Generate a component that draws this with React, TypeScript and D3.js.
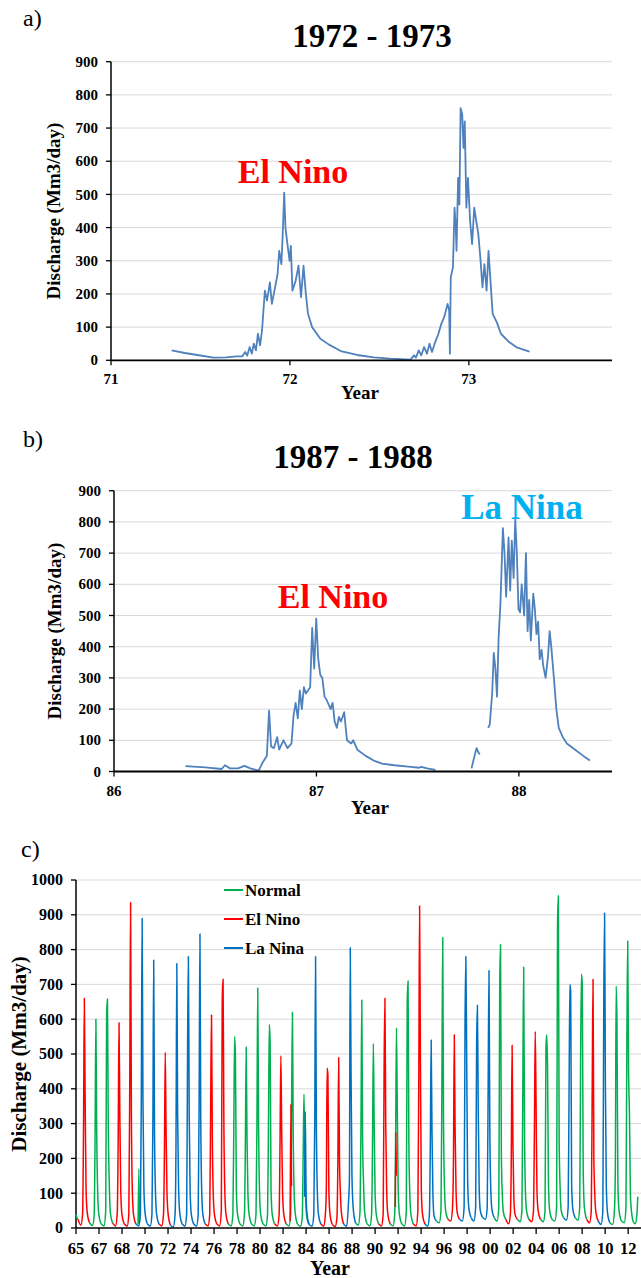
import React from 'react';
import * as d3 from 'd3';

const W = 641, H = 1278;
const FONT = "'Liberation Serif', 'Times New Roman', serif";
const BLUE_LINE = '#4F81BD';
const GRID = '#d9d9d9';

// ---------- Panel a: 1972 - 1973 ----------
const aYTicks = [0, 100, 200, 300, 400, 500, 600, 700, 800, 900];
const aXTicks = [71, 72, 73];
const aFlow: [number, number][] = [
  [71.339, 30], [71.413, 22], [71.482, 16], [71.573, 8], [71.642, 9], [71.700, 12], [71.734, 12],
  [71.750, 25], [71.761, 14], [71.775, 40], [71.787, 20], [71.798, 50], [71.810, 30], [71.821, 80],
  [71.833, 45], [71.844, 90], [71.860, 210], [71.872, 180], [71.888, 235], [71.899, 170], [71.917, 220],
  [71.931, 260], [71.940, 330], [71.952, 290], [71.959, 370], [71.968, 505], [71.975, 400], [71.986, 350],
  [71.998, 300], [72.005, 345], [72.014, 210], [72.032, 240], [72.048, 285], [72.062, 190], [72.076, 285],
  [72.089, 200], [72.101, 140], [72.124, 100], [72.170, 65], [72.216, 48], [72.284, 28], [72.376, 16],
  [72.468, 9], [72.560, 5], [72.674, 2], [72.693, 15], [72.704, 8], [72.720, 30], [72.734, 15],
  [72.750, 40], [72.766, 20], [72.780, 50], [72.794, 25], [72.812, 55], [72.830, 80], [72.846, 110],
  [72.862, 130], [72.881, 170], [72.890, 150], [72.894, 20], [72.899, 250], [72.911, 280], [72.920, 460],
  [72.927, 400], [72.931, 330], [72.940, 550], [72.947, 470], [72.954, 760], [72.963, 740], [72.970, 640],
  [72.977, 720], [72.986, 460], [72.995, 550], [73.007, 420], [73.018, 350], [73.030, 460], [73.041, 420],
  [73.053, 380], [73.064, 310], [73.076, 220], [73.087, 290], [73.099, 210], [73.110, 330], [73.122, 230],
  [73.133, 140], [73.156, 115], [73.179, 80], [73.225, 55], [73.271, 38], [73.339, 26],
];

// ---------- Panel b: 1987 - 1988 ----------
const bYTicks = [0, 100, 200, 300, 400, 500, 600, 700, 800, 900];
const bXTicks = [86, 87, 88];
const bFlow1: [number, number][] = [
  [86.353, 17], [86.451, 13], [86.532, 8], [86.548, 20], [86.573, 10], [86.613, 10], [86.644, 18],
  [86.674, 10], [86.715, 3], [86.735, 30], [86.755, 50], [86.766, 195], [86.776, 80], [86.790, 75],
  [86.806, 110], [86.816, 70], [86.837, 100], [86.857, 75], [86.877, 90], [86.887, 180], [86.897, 220],
  [86.908, 170], [86.918, 260], [86.928, 200], [86.938, 270], [86.948, 250], [86.969, 270], [86.979, 460],
  [86.989, 330], [86.999, 490], [87.009, 360], [87.019, 310], [87.029, 300], [87.040, 240], [87.050, 230],
  [87.070, 200], [87.080, 220], [87.090, 160], [87.101, 140], [87.111, 175], [87.121, 160], [87.137, 190],
  [87.151, 100], [87.172, 90], [87.182, 100], [87.202, 70], [87.243, 50], [87.283, 35], [87.324, 25],
  [87.385, 20], [87.466, 15], [87.507, 12], [87.517, 15], [87.547, 10], [87.588, 5],
];
const bFlow2: [number, number][] = [
  [87.766, 10], [87.781, 50], [87.791, 75], [87.801, 60], [87.807, 55],
];
const bFlow3: [number, number][] = [
  [87.848, 140], [87.856, 150], [87.868, 250], [87.876, 380], [87.884, 330], [87.892, 240], [87.900, 430],
  [87.909, 540], [87.921, 780], [87.929, 700], [87.937, 560], [87.949, 750], [87.957, 580], [87.965, 740],
  [87.974, 620], [87.982, 810], [87.990, 700], [87.998, 520], [88.006, 510], [88.014, 600], [88.026, 500],
  [88.035, 700], [88.043, 450], [88.051, 550], [88.059, 420], [88.071, 570], [88.079, 520], [88.087, 440],
  [88.095, 480], [88.103, 360], [88.112, 390], [88.120, 340], [88.132, 300], [88.144, 370], [88.152, 450],
  [88.160, 400], [88.173, 300], [88.185, 200], [88.197, 140], [88.217, 110], [88.237, 90], [88.278, 70],
  [88.318, 50], [88.351, 35],
];

// ---------- Panel c: 1965 - 2012 ----------
const cYTicks = [0, 100, 200, 300, 400, 500, 600, 700, 800, 900, 1000];
const cXTickLabels = ['65', '67', '68', '70', '72', '74', '76', '78', '80', '82', '84', '86', '88', '90',
  '92', '94', '96', '98', '00', '02', '04', '06', '08', '10', '12'];
const cTickStart = 1964.93;
const cTickStep = 1.99;
// fraction of year at which each flow value of a year is read
const cOffsets = [0.1, 0.35, 0.5, 0.58, 0.65, 0.72, 0.8, 0.9, 1.1];
const cYears = [1965, 1966, 1967, 1968, 1969, 1970, 1971, 1972, 1973, 1974, 1975, 1976, 1977, 1978, 1979,
  1980, 1981, 1982, 1983, 1984, 1985, 1986, 1987, 1988, 1989, 1990, 1991, 1992, 1993, 1994, 1995, 1996,
  1997, 1998, 1999, 2000, 2001, 2002, 2003, 2004, 2005, 2006, 2007, 2008, 2009, 2010, 2011, 2012];
const cType = ['E', 'N', 'N', 'E', 'E', 'L', 'L', 'E', 'L', 'L', 'L', 'E', 'E', 'N', 'N',
  'N', 'N', 'E', 'N', 'N', 'L', 'E', 'E', 'L', 'N', 'N', 'E', 'N', 'N', 'E', 'L', 'N',
  'E', 'L', 'L', 'L', 'N', 'E', 'N', 'E', 'N', 'N', 'L', 'N', 'E', 'L', 'N', 'N'];
const cFlow = [
  [25, 8, 40, 280, 660, 375, 110, 45, 15],
  [15, 7, 35, 260, 600, 280, 110, 40, 12],
  [12, 6, 50, 615, 658, 300, 140, 45, 14],
  [14, 6, 45, 260, 590, 330, 110, 40, 12],
  [12, 5, 40, 420, 935, 330, 110, 40, 12],
  [12, 6, 40, 380, 890, 375, 120, 45, 12],
  [12, 5, 40, 300, 770, 280, 110, 40, 12],
  [12, 6, 40, 220, 505, 285, 100, 40, 8],
  [8, 3, 40, 250, 760, 330, 120, 45, 12],
  [12, 5, 40, 510, 780, 330, 110, 40, 12],
  [12, 5, 40, 360, 845, 320, 110, 40, 12],
  [12, 6, 40, 360, 612, 260, 100, 40, 12],
  [12, 6, 50, 660, 715, 300, 110, 40, 12],
  [12, 6, 40, 290, 550, 490, 110, 40, 12],
  [12, 6, 40, 240, 520, 260, 100, 40, 12],
  [12, 6, 40, 300, 690, 300, 110, 40, 12],
  [12, 6, 40, 300, 585, 535, 110, 40, 12],
  [12, 6, 40, 250, 495, 280, 100, 40, 12],
  [12, 6, 40, 355, 620, 260, 100, 40, 10],
  [10, 5, 30, 210, 385, 200, 80, 30, 10],
  [10, 5, 40, 300, 780, 300, 110, 40, 12],
  [12, 5, 40, 110, 460, 440, 110, 40, 10],
  [10, 4, 30, 190, 490, 200, 100, 40, 10],
  [10, 5, 75, 140, 805, 450, 150, 60, 15],
  [15, 8, 50, 300, 655, 250, 130, 45, 12],
  [12, 6, 40, 250, 530, 300, 100, 40, 12],
  [12, 6, 40, 460, 660, 300, 110, 40, 12],
  [12, 6, 40, 275, 575, 340, 110, 40, 12],
  [12, 6, 50, 650, 710, 250, 100, 40, 12],
  [12, 6, 50, 430, 925, 480, 110, 40, 12],
  [12, 5, 40, 250, 540, 280, 100, 35, 20],
  [20, 15, 50, 420, 835, 300, 120, 50, 25],
  [25, 20, 60, 200, 555, 285, 110, 45, 25],
  [25, 20, 60, 590, 780, 500, 150, 60, 30],
  [30, 20, 60, 520, 640, 350, 120, 50, 30],
  [30, 25, 60, 410, 740, 300, 120, 55, 30],
  [30, 20, 60, 700, 815, 215, 100, 45, 25],
  [25, 12, 40, 200, 525, 250, 90, 40, 25],
  [25, 18, 50, 420, 750, 300, 110, 50, 25],
  [25, 18, 50, 280, 565, 370, 110, 50, 25],
  [25, 18, 50, 520, 555, 450, 120, 50, 25],
  [25, 20, 60, 870, 955, 250, 120, 50, 30],
  [30, 22, 60, 400, 700, 680, 130, 55, 30],
  [30, 22, 60, 500, 730, 700, 170, 60, 25],
  [25, 15, 50, 400, 715, 210, 100, 45, 20],
  [20, 10, 50, 650, 905, 410, 120, 45, 15],
  [15, 10, 50, 165, 695, 600, 130, 50, 20],
  [20, 15, 60, 550, 825, 470, 330, 80, 20],
];
// short pieces where the colour changes inside a year
const cExtra: { t: string; pts: [number, number][] }[] = [
  { t: 'N', pts: [[1964.93, 40], [1965.0, 30], [1965.1, 25]] },
  { t: 'N', pts: [[1970.3, 10], [1970.37, 170], [1970.42, 15]] },
  { t: 'E', pts: [[1983.45, 20], [1983.52, 355], [1983.57, 120]] },
  { t: 'L', pts: [[1984.7, 90], [1984.76, 335], [1984.84, 80], [1984.95, 30], [1985.1, 10]] },
  { t: 'E', pts: [[1992.55, 60], [1992.6, 275], [1992.64, 150]] },
  { t: 'N', pts: [[2013.1, 20], [2013.3, 12], [2013.45, 40], [2013.52, 90]] },
];
const cLegend = [
  { t: 'N', label: 'Normal' },
  { t: 'E', label: 'El Nino' },
  { t: 'L', label: 'La Nina' },
];
const cColor: Record<string, string> = { N: '#00B050', E: '#FF0000', L: '#0070C0' };

function YAxis({ y, ticks, x0, x1, fs }: { y: d3.ScaleLinear<number, number>; ticks: number[]; x0: number; x1: number; fs: number }) {
  return (
    <g>
      {ticks.map((t) => (
        <g key={t}>
          {t > 0 && <line x1={x0} x2={x1} y1={y(t)} y2={y(t)} stroke={GRID} strokeWidth={1} />}
          <line x1={x0 - 5} x2={x0} y1={y(t)} y2={y(t)} stroke="#000" strokeWidth={1.3} />
          <text x={x0 - 13} y={y(t)} dy="0.34em" textAnchor="end" fontSize={fs} fontWeight="bold" fontFamily={FONT}>{t}</text>
        </g>
      ))}
      <line x1={x0} x2={x0} y1={y(ticks[ticks.length - 1])} y2={y(0)} stroke="#000" strokeWidth={1.5} />
    </g>
  );
}

function PanelAB({ x, y, yTicks, xTicks, series, title, titleX, titleY, tag, tagY, yLabelX, xTickY, yearX, yearY }: any) {
  const line = d3.line<[number, number]>().x((d) => x(d[0])).y((d) => y(d[1]));
  const [r0, r1] = x.range();
  return (
    <g>
      <text x={23} y={tagY} fontSize={24} fontFamily={FONT}>{tag}</text>
      <text x={titleX} y={titleY} textAnchor="middle" fontSize={33} fontWeight="bold" fontFamily={FONT}>{title}</text>
      <YAxis y={y} ticks={yTicks} x0={r0} x1={r1} fs={15} />
      {series.map((s: [number, number][], i: number) => (
        <path key={i} d={line(s) || ''} fill="none" stroke={BLUE_LINE} strokeWidth={1.8} strokeLinejoin="round" />
      ))}
      <line x1={r0} x2={r1} y1={y(0)} y2={y(0)} stroke="#000" strokeWidth={1.8} />
      {xTicks.map((t: number) => (
        <g key={t}>
          <line x1={x(t)} x2={x(t)} y1={y(0)} y2={y(0) + 5} stroke="#000" strokeWidth={1.3} />
          <text x={x(t)} y={xTickY} textAnchor="middle" fontSize={15} fontWeight="bold" fontFamily={FONT}>{t}</text>
        </g>
      ))}
      <text x={yearX} y={yearY} textAnchor="middle" fontSize={19} fontWeight="bold" fontFamily={FONT}>Year</text>
      <text transform={`translate(${yLabelX},${(y(0) + y(yTicks[yTicks.length - 1])) / 2}) rotate(-90)`} textAnchor="middle" dy="0.35em"
        fontSize={19} fontWeight="bold" fontFamily={FONT}>Discharge (Mm3/day)</text>
    </g>
  );
}

export default function App() {
  const ax = d3.scaleLinear().domain([71, 73.8]).range([111, 612]);
  const ay = d3.scaleLinear().domain([0, 900]).range([360.3, 61.7]);
  const bx = d3.scaleLinear().domain([86, 88.46]).range([114, 612]);
  const by = d3.scaleLinear().domain([0, 900]).range([771.5, 490.7]);
  const cx = d3.scaleLinear().domain([1964.93, 2013.8]).range([76, 641]);
  const cy = d3.scaleLinear().domain([0, 1000]).range([1228, 880]);
  const cLine = d3.line<[number, number]>().x((d) => cx(d[0])).y((d) => cy(d[1])).curve(d3.curveMonotoneX);

  const cSegs = cYears.map((yr, i) => ({
    t: cType[i],
    pts: cOffsets.map((o, k) => [yr + o, cFlow[i][k]] as [number, number]),
  }));
  const allSegs = [...cSegs, ...cExtra];
  const order = ['N', 'E', 'L'];

  return (
    <svg width={W} height={H} style={{ display: 'block', position: 'absolute', left: 0, top: 0, background: '#fff' }}>
      <rect width={W} height={H} fill="#fff" />
      <PanelAB x={ax} y={ay} yTicks={aYTicks} xTicks={aXTicks} series={[aFlow]} title="1972 - 1973" titleX={372} titleY={47}
        tag="a)" tagY={26} yLabelX={53} xTickY={384} yearX={360} yearY={399} />
      <text x={293} y={183} textAnchor="middle" fontSize={34} fontWeight="bold" fill="#FF0000" fontFamily={FONT}>El Nino</text>

      <PanelAB x={bx} y={by} yTicks={bYTicks} xTicks={bXTicks} series={[bFlow1, bFlow2, bFlow3]} title="1987 - 1988" titleX={353} titleY={468}
        tag="b)" tagY={447} yLabelX={54} xTickY={796} yearX={370} yearY={814} />
      <text x={333} y={608} textAnchor="middle" fontSize={34} fontWeight="bold" fill="#FF0000" fontFamily={FONT}>El Nino</text>
      <text x={522} y={519} textAnchor="middle" fontSize={35} fontWeight="bold" fill="#00B0F0" fontFamily={FONT}>La Nina</text>

      {/* Panel c */}
      <text x={21} y={857} fontSize={24} fontFamily={FONT}>c)</text>
      <YAxis y={cy} ticks={cYTicks} x0={76} x1={641} fs={16} />
      {order.map((t) =>
        allSegs.filter((s) => s.t === t).map((s, i) => (
          <path key={t + i} d={cLine(s.pts) || ''} fill="none" stroke={cColor[t]} strokeWidth={1.5} strokeLinejoin="round" />
        ))
      )}
      <line x1={76} x2={641} y1={cy(0)} y2={cy(0)} stroke="#000" strokeWidth={1.5} />
      {cXTickLabels.map((lab, i) => {
        const xv = cx(cTickStart + i * cTickStep);
        return (
          <g key={i}>
            <line x1={xv} x2={xv} y1={cy(0)} y2={cy(0) + 6} stroke="#000" strokeWidth={1.3} />
            <text x={xv} y={1254} textAnchor="middle" fontSize={16.5} fontWeight="bold" fontFamily={FONT}>{lab}</text>
          </g>
        );
      })}
      <text x={330} y={1275} textAnchor="middle" fontSize={20} fontWeight="bold" fontFamily={FONT}>Year</text>
      <text transform={`translate(19,${(cy(0) + cy(1000)) / 2}) rotate(-90)`} textAnchor="middle" dy="0.35em"
        fontSize={21} fontWeight="bold" fontFamily={FONT}>Discharge (Mm3/day)</text>
      {cLegend.map((l, i) => (
        <g key={l.t}>
          <line x1={224} x2={243} y1={890 + i * 29} y2={890 + i * 29} stroke={cColor[l.t]} strokeWidth={2} />
          <text x={245} y={890 + i * 29} dy="0.34em" fontSize={17} fontWeight="bold" fontFamily={FONT}>{l.label}</text>
        </g>
      ))}
    </svg>
  );
}
